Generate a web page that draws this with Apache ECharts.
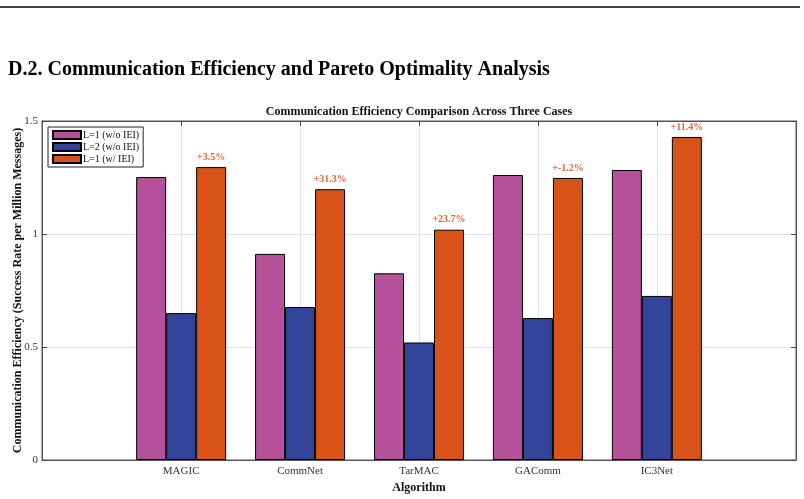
<!DOCTYPE html>
<html>
<head>
<meta charset="utf-8">
<script src="https://cdn.jsdelivr.net/npm/echarts@6/dist/echarts.min.js"></script>
<style>
  html, body { margin: 0; padding: 0; background: #fff; }
  #chart { width: 804px; height: 499px; }
</style>
</head>
<body>
<div id="chart"></div>
<script>
// 算法名称
const algorithms = ["MAGIC", "CommNet", "TarMAC", "GAComm", "IC3Net"];
const algoPos = [1, 2, 3, 4, 5];
// 三种情况的通信效率
const l1NoIei = [1.252, 0.912, 0.826, 1.261, 1.283];
const l2NoIei = [0.650, 0.677, 0.520, 0.628, 0.726];
const l1WithIei = [1.296, 1.198, 1.019, 1.248, 1.429];
// 柱顶标注
const gainLabels = ["+3.5%", "+31.3%", "+23.7%", "+-1.2%", "+11.4%"];

const serif = '"Liberation Serif", "DejaVu Serif", serif';

function pairs(vals) {
  return vals.map((v, i) => [algoPos[i], v]);
}

let myChart = echarts.init(document.getElementById("chart"));
let barBase = {
  type: "bar",
  barWidth: 30,
  barGap: "0%",
  itemStyle: { borderColor: "#000", borderWidth: 1 },
};
let option = {
  animation: false,
  backgroundColor: "#fff",
  textStyle: { fontFamily: serif },
  graphic: [
    {
      type: "line",
      shape: { x1: 0, y1: 7, x2: 800, y2: 7 },
      style: { stroke: "#000", lineWidth: 1.5 },
    },
    {
      type: "text",
      x: 8,
      y: 70,
      style: {
        text: "D.2. Communication Efficiency and Pareto Optimality Analysis",
        font: "bold 20px " + serif,
        fill: "#000",
        textVerticalAlign: "middle",
      },
    },
    {
      type: "text",
      x: 419,
      y: 112,
      style: {
        text: "Communication Efficiency Comparison Across Three Cases",
        font: "bold 12px " + serif,
        fill: "#111",
        textAlign: "center",
        textVerticalAlign: "middle",
      },
    },
  ],
  legend: {
    left: 48,
    top: 127,
    orient: "vertical",
    icon: "rect",
    backgroundColor: "#fff",
    borderColor: "#222",
    borderWidth: 1,
    padding: [3, 4, 3, 4],
    itemGap: 2,
    itemWidth: 28,
    itemHeight: 8,
    textStyle: { fontFamily: serif, fontSize: 10, color: "#111", padding: [0, 0, 0, -3] },
  },
  grid: {
    left: 42,
    right: 8,
    top: 121,
    bottom: 39,
    outerBoundsMode: "none",
    containLabel: false,
    show: true,
    borderColor: "#555",
    borderWidth: 1,
  },
  xAxis: [
    {
      type: "value",
      min: -0.17,
      max: 6.17,
      name: "Algorithm",
      nameLocation: "middle",
      nameGap: 21,
      nameTextStyle: { fontFamily: serif, fontSize: 12, fontWeight: "bold", color: "#111" },
      axisLine: { onZero: false, lineStyle: { color: "#555" } },
      axisTick: { show: false, customValues: algoPos },
      axisLabel: {
        customValues: algoPos,
        margin: 6,
        fontFamily: serif,
        fontSize: 11,
        color: "#333",
        formatter: (v) => algorithms[Math.round(v) - 1],
      },
      splitLine: { show: true, lineStyle: { color: "#e3e3e3" } },
    },
    {
      type: "value",
      position: "top",
      min: -0.17,
      max: 6.17,
      axisLine: { show: true, onZero: false, lineStyle: { color: "#555" } },
      axisTick: { show: true, inside: true, length: 5, customValues: algoPos, lineStyle: { color: "#444" } },
      axisLabel: { show: false },
      splitLine: { show: false },
    },
  ],
  yAxis: [
    {
      type: "value",
      min: 0,
      max: 1.5,
      interval: 0.5,
      name: "Communication Efficiency (Success Rate per Million Messages)",
      nameLocation: "middle",
      nameGap: 18,
      nameMoveOverlap: false,
      nameTextStyle: { fontFamily: serif, fontSize: 12, fontWeight: "bold", color: "#111" },
      axisLine: { show: true, onZero: false, lineStyle: { color: "#555" } },
      axisTick: { show: true, inside: true, length: 5, lineStyle: { color: "#444" } },
      axisLabel: {
        margin: 4,
        fontFamily: serif,
        fontSize: 11,
        color: "#333",
        formatter: (v) => String(v),
      },
      splitLine: { show: true, lineStyle: { color: "#e3e3e3" } },
    },
    {
      type: "value",
      position: "right",
      min: 0,
      max: 1.5,
      interval: 0.5,
      axisLine: { show: true, onZero: false, lineStyle: { color: "#555" } },
      axisTick: { show: true, inside: true, length: 5, lineStyle: { color: "#444" } },
      axisLabel: { show: false },
      splitLine: { show: false },
    },
  ],
  series: [
    {
      ...barBase,
      name: "L=1 (w/o IEI)",
      itemStyle: { ...barBase.itemStyle, color: "#b5519a" },
      data: pairs(l1NoIei),
    },
    {
      ...barBase,
      name: "L=2 (w/o IEI)",
      itemStyle: { ...barBase.itemStyle, color: "#31449a" },
      data: pairs(l2NoIei),
    },
    {
      ...barBase,
      name: "L=1 (w/ IEI)",
      itemStyle: { ...barBase.itemStyle, color: "#d95319" },
      label: {
        show: true,
        position: "top",
        distance: 5,
        fontFamily: serif,
        fontSize: 10,
        fontWeight: "bold",
        color: "#e8643a",
        formatter: (p) => gainLabels[p.dataIndex],
      },
      data: pairs(l1WithIei),
    },
  ],
};
myChart.setOption(option);
</script>
</body>
</html>
